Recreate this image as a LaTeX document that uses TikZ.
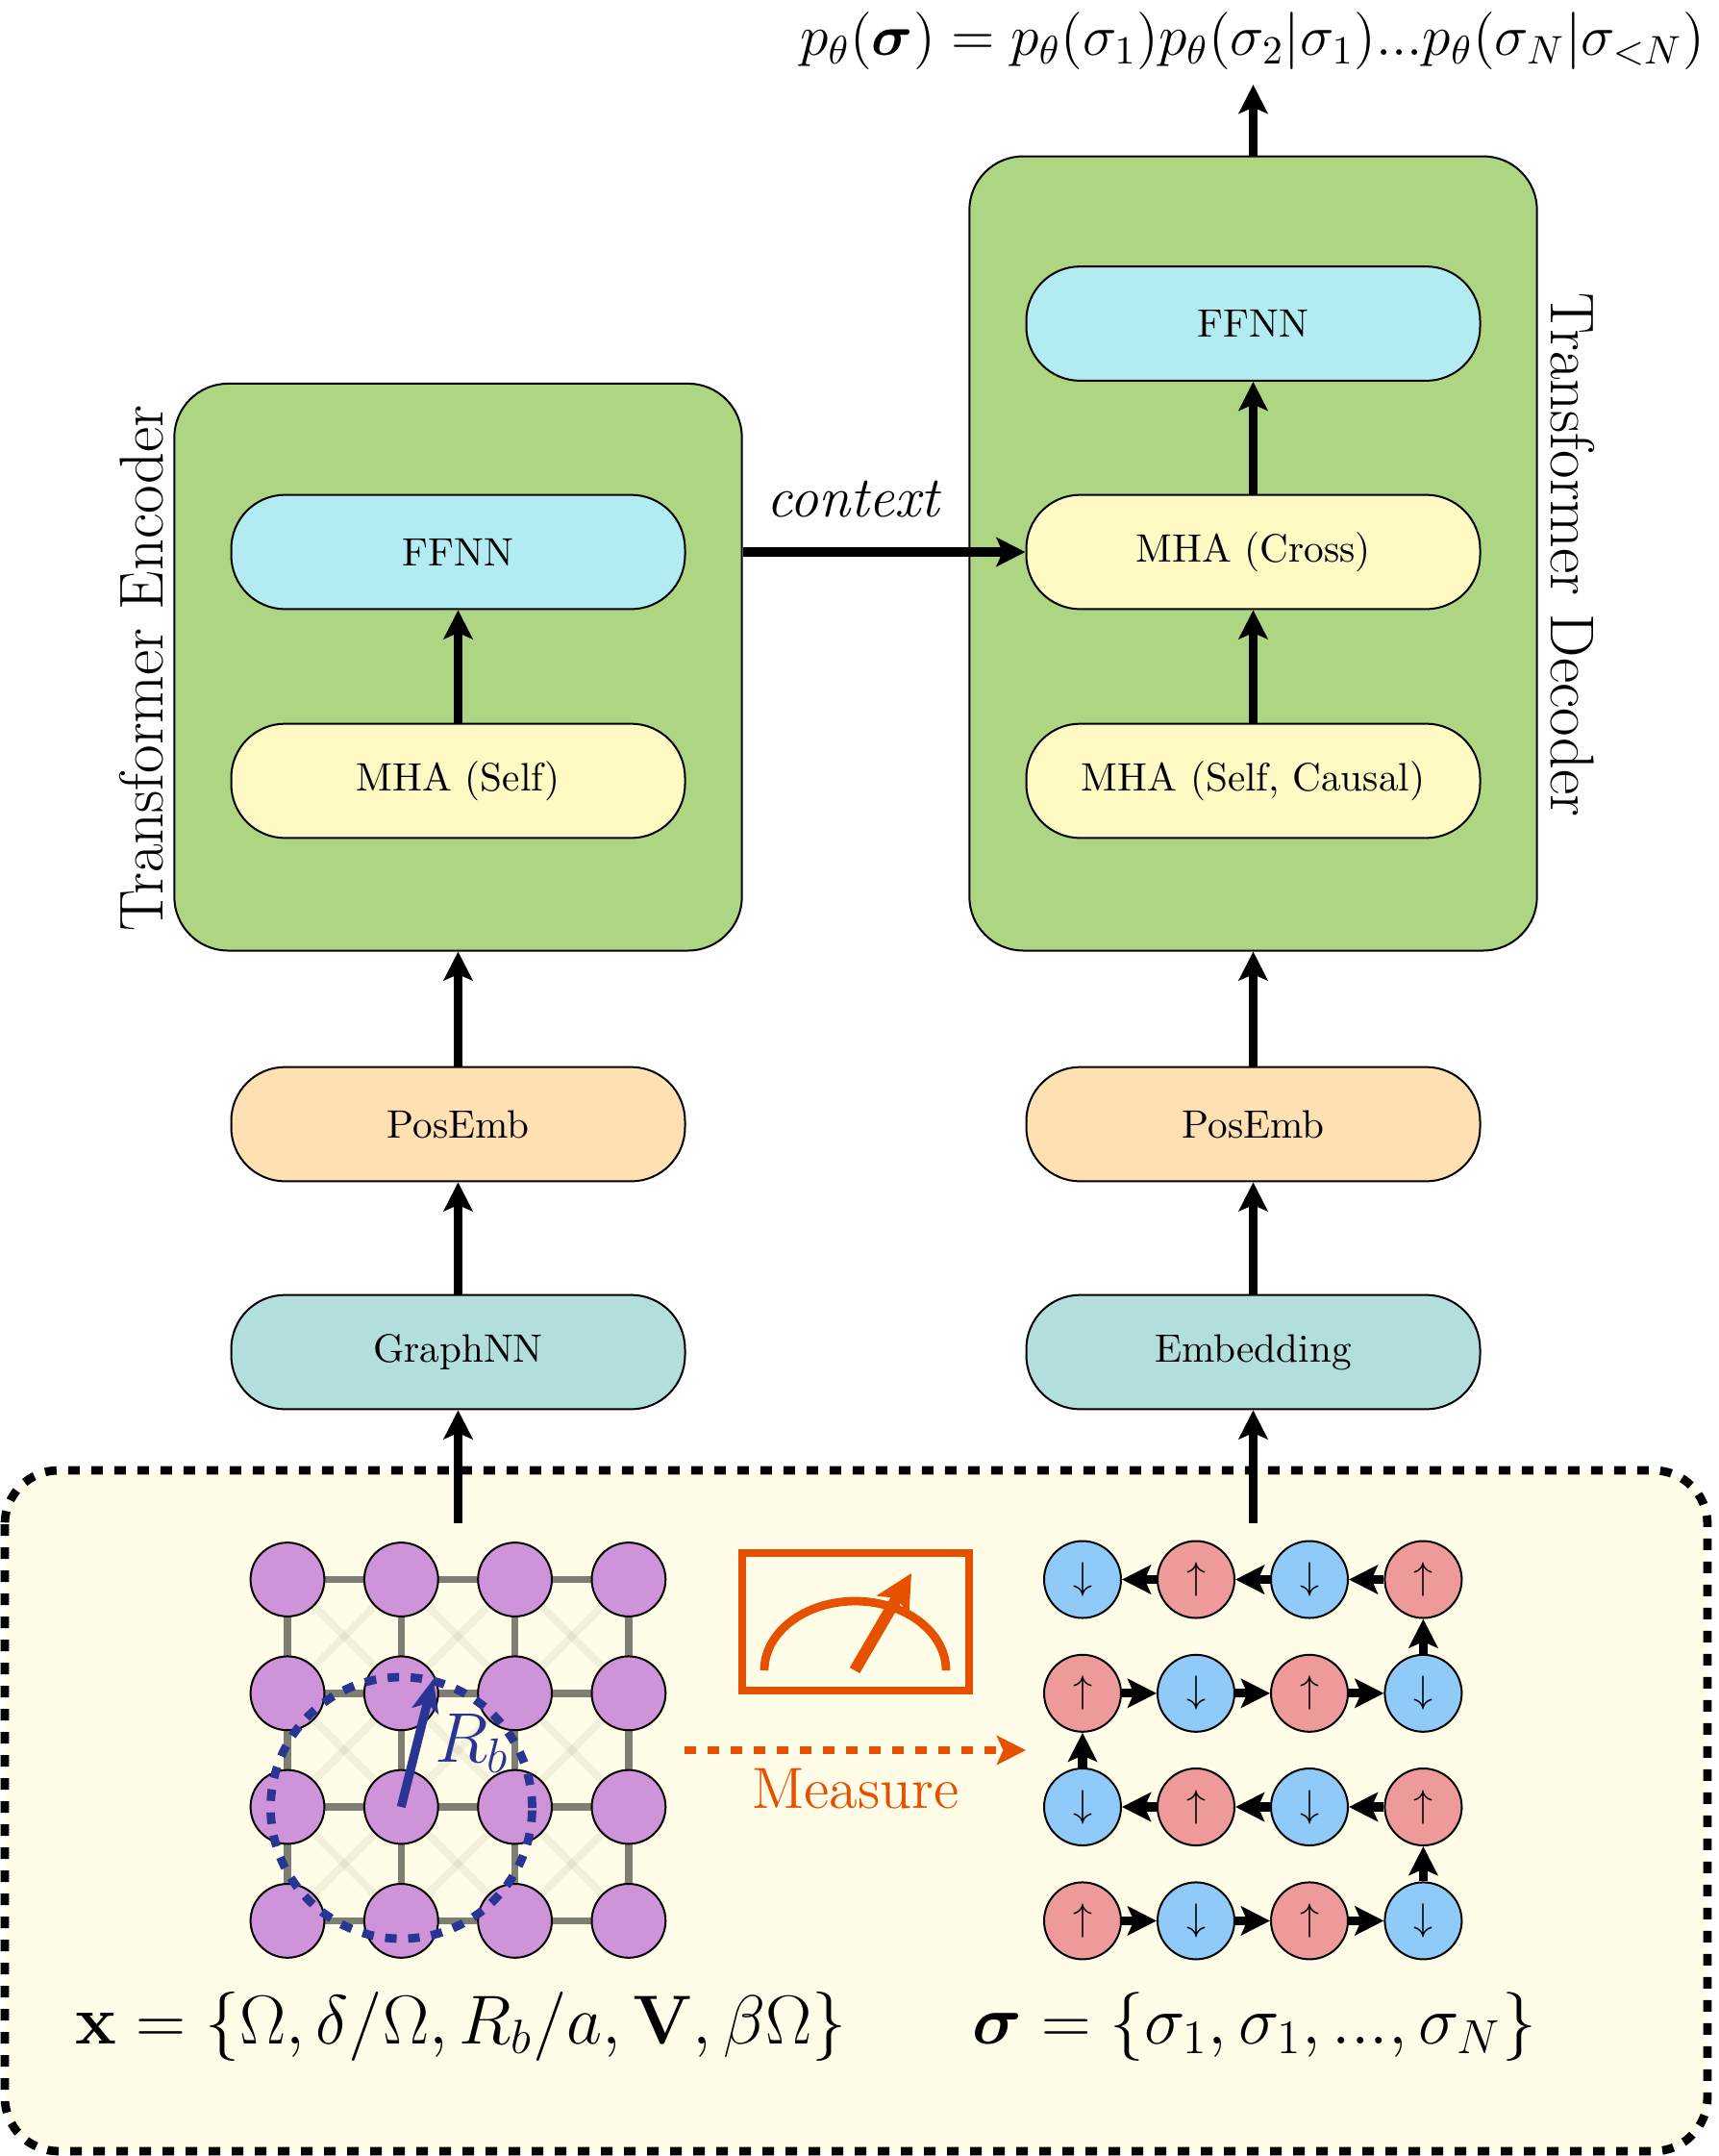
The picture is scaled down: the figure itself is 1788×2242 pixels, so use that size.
\documentclass[tikz,border=0pt]{standalone}
\usepackage{amsmath}
\usepackage{bm}
\usetikzlibrary{arrows.meta,calc}
\definecolor{blockgreen}{HTML}{AED581}
\definecolor{ffnncol}{HTML}{B2EBF2}
\definecolor{mhacol}{HTML}{FFF9C4}
\definecolor{poscol}{HTML}{FFE0B2}
\definecolor{embcol}{HTML}{B2DFDB}
\definecolor{inputbg}{HTML}{FFFDE7}
\definecolor{atomcol}{HTML}{CE93D8}
\definecolor{upcol}{HTML}{EF9A9A}
\definecolor{downcol}{HTML}{90CAF9}
\definecolor{measurecol}{HTML}{E65100}
\definecolor{radiuscol}{HTML}{283593}
\tikzset{
  tip/.style={-{Stealth[length=7.5pt,width=7.5pt,inset=1.6pt]}},
  flow/.style={tip,line width=2.3pt,black},
  layer/.style={draw=black,line width=0.5pt,rounded corners=14pt,minimum width=118pt,minimum height=29.7pt,inner sep=0pt,font=\fontsize{10.3}{12}\selectfont},
  stack/.style={draw=black,line width=0.5pt,fill=blockgreen,rounded corners=14pt,minimum width=147.6pt,inner sep=0pt},
  atom/.style={circle,draw=black,line width=0.5pt,fill=atomcol,minimum size=19.2pt,inner sep=0pt},
  spin/.style={circle,draw=black,line width=0.5pt,minimum size=20pt,inner sep=0pt},
  bond/.style={line width=1.9pt,black,opacity=0.5},
  farbond/.style={line width=2pt,black,opacity=0.05},
  sidelabel/.style={font=\fontsize{16.1}{19}\selectfont,inner sep=0pt},
}
\begin{document}
\begin{tikzpicture}[x=0.25pt,y=-0.25pt]
\useasboundingbox (0,0) rectangle (1788,2242);

% Input panel
\path[fill=inputbg,draw=black,line width=2.2pt,dash pattern=on 3pt off 3pt,rounded corners=14pt]
  (5,1529) rectangle (1776,2237);
\coordinate (srcx) at (476.5,1584);
\coordinate (srcs) at (1303.5,1584);

% Encoder side
\node[stack,minimum height=147.4pt] (enc) at (476.5,693.7) {};
\node[layer,fill=ffnncol] (effnn) at (476.5,574) {FFNN};
\node[layer,fill=mhacol] (eself) at (476.5,812) {MHA (Self)};
\node[layer,fill=poscol] (epos) at (476.5,1169) {PosEmb};
\node[layer,fill=embcol] (egnn) at (476.5,1406) {GraphNN};
\node[sidelabel,rotate=90] (enclabel) at (147,695) {Transformer Encoder};

% Decoder side
\node[stack,minimum height=206.5pt] (dec) at (1303.5,575.5) {};
\node[layer,fill=ffnncol] (dffnn) at (1303.5,336.5) {FFNN};
\node[layer,fill=mhacol] (dcross) at (1303.5,574) {MHA (Cross)};
\node[layer,fill=mhacol] (dself) at (1303.5,812) {MHA (Self, Causal)};
\node[layer,fill=poscol] (dpos) at (1303.5,1169) {PosEmb};
\node[layer,fill=embcol] (demb) at (1303.5,1406) {Embedding};
\node[sidelabel,rotate=-90] (declabel) at (1636,577) {Transformer Decoder};

% Output distribution
\node[font=\Large,scale=1.037,inner sep=0pt] (output) at (1302.5,43)
  {$p_\theta(\boldsymbol{\sigma}) = p_\theta(\sigma_1)p_\theta(\sigma_2|\sigma_1)...p_\theta(\sigma_N|\sigma_{<N})$};
\coordinate (outtip) at (1303.5,88);

% Data flow
\draw[flow] (srcx) -- (egnn.south);
\draw[flow] (egnn.north) -- (epos.south);
\draw[flow] (epos.north) -- (enc.south);
\draw[flow] (eself.north) -- (effnn.south);
\draw[flow] (srcs) -- (demb.south);
\draw[flow] (demb.north) -- (dpos.south);
\draw[flow] (dpos.north) -- (dec.south);
\draw[flow] (dself.north) -- (dcross.south);
\draw[flow] (dcross.north) -- (dffnn.south);
\draw[flow] (dec.north) -- (outtip);
\draw[flow] (enc.east |- effnn.east) -- (dcross.west);
\node[font=\Large\itshape,scale=1.04,inner sep=0pt] (ctx) at (887,519) {context};

% Atom lattice: nearest and next-nearest couplings below the sites
\foreach \i/\ax in {1/299,2/417.3,3/535.6,4/653.9}
  \foreach \j/\ay in {1/1642.5,2/1760.8,3/1879,4/1997.4}
    \coordinate (p\i\j) at (\ax,\ay);
\foreach \i/\k in {1/2,2/3,3/4}
  \foreach \j/\l in {1/2,2/3,3/4}{
    \draw[farbond] (p\i\j) -- (p\k\l);
    \draw[farbond] (p\k\j) -- (p\i\l);
  }
\foreach \i/\k in {1/2,2/3,3/4}
  \foreach \j in {1,2,3,4}{
    \draw[bond] (p\i\j) -- (p\k\j);
    \draw[bond] (p\j\i) -- (p\j\k);
  }
\foreach \i in {1,2,3,4}
  \foreach \j in {1,2,3,4}
    \node[atom] (a\i\j) at (p\i\j) {};

% Blockade radius
\node[circle,draw=radiuscol,line width=2.2pt,dash pattern=on 3pt off 3pt,minimum size=68pt,inner sep=0pt] (blockade) at (417.5,1880) {};
\coordinate (rbtip) at (450.6,1746);
\draw[-{Stealth[length=8.5pt,width=7pt,inset=2pt]},line width=2.3pt,radiuscol] (a23.center) -- (rbtip);
\node[text=radiuscol,font=\LARGE,scale=1.06,inner sep=0pt] (rb) at (491,1813) {$R_b$};

% Spin chain
\foreach \i/\sx in {1/1126,2/1244,3/1362,4/1480.4}
  \foreach \j/\sy in {1/1642.5,2/1760.8,3/1879,4/1997.4}{
    \pgfmathtruncatemacro{\parity}{mod(\i+\j,2)}
    \ifnum\parity=0
      \node[spin,fill=downcol] (s\i\j) at (\sx,\sy) {$\downarrow$};
    \else
      \node[spin,fill=upcol] (s\i\j) at (\sx,\sy) {$\uparrow$};
    \fi
  }
\foreach \i/\k in {1/2,2/3,3/4}{
  \draw[flow] (s\i4) -- (s\k4);
  \draw[flow] (s\i2) -- (s\k2);
  \draw[flow] (s\k3) -- (s\i3);
  \draw[flow] (s\k1) -- (s\i1);
}
\draw[flow] (s44) -- (s43);
\draw[flow] (s13) -- (s12);
\draw[flow] (s42) -- (s41);

% Measurement
\coordinate (mfrom) at (712,1820);
\coordinate (mto) at (1067,1820);
\draw[tip,line width=2.2pt,measurecol,dash pattern=on 3pt off 3pt] (mfrom) -- (mto);
\node[text=measurecol,font=\Large,scale=1.05,inner sep=0pt] (mlabel) at (890,1860) {Measure};
\draw[measurecol,line width=2.2pt] (772,1615) rectangle (1008,1758);
\draw[measurecol,line width=2.2pt] (795,1737) arc[start angle=180,end angle=360,x radius=94.5,y radius=72];
\coordinate (needlefoot) at (889,1737);
\coordinate (needletip) at (948,1636);
\draw[-{Stealth[length=9.5pt,width=9.5pt,inset=2pt]},measurecol,line width=3pt] (needlefoot) -- (needletip);

% Parameter sets
\node[anchor=base west,font=\LARGE,scale=1.043,inner sep=0pt] (xset) at (77.5,2125)
  {$\mathbf{x} = \{\Omega, \delta/\Omega, R_b/a, \mathbf{V}, \beta\Omega\}$};
\node[anchor=base west,font=\LARGE,scale=1.036,inner sep=0pt] (sset) at (1011,2125)
  {$\boldsymbol{\sigma} = \{\sigma_1, \sigma_1, ..., \sigma_N\}$};
\end{tikzpicture}
\end{document}
